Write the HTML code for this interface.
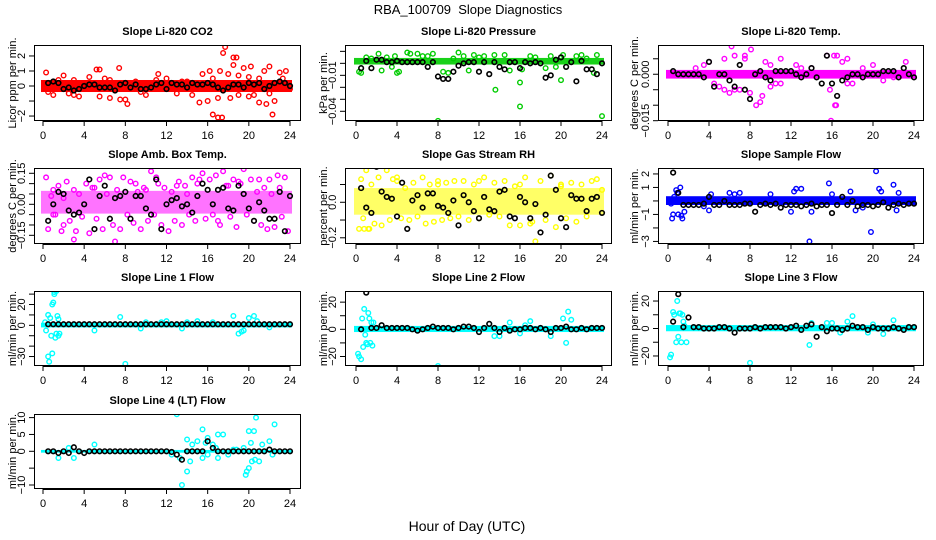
<!DOCTYPE html>
<html><head><meta charset="utf-8">
<style>
html,body{margin:0;padding:0;background:#fff;}
svg{display:block;font-family:"Liberation Sans",Arial,sans-serif;}
</style></head>
<body>
<svg id="chart" width="936" height="540" viewBox="0 0 936 540" xmlns="http://www.w3.org/2000/svg">
<rect width="936" height="540" fill="#fff"/>
<text x="468" y="14" text-anchor="middle" font-size="13">RBA_100709&#160; Slope Diagnostics</text>
<text x="467" y="531" text-anchor="middle" font-size="14">Hour of Day (UTC)</text>
</svg>
<script>
// ---- shared data ----
const xTicks = [0,4,8,12,16,20,24];
const blackHours = [0.5,1,1.5,2,2.5,3,3.5,4,4.5,5,5.5,6,6.5,7,7.5,8,8.5,9,9.5,10,10.5,11,11.5,12,12.5,13,13.5,14,14.5,15,15.5,16,16.5,17,17.5,18,18.5,19,19.5,20,20.5,21,21.5,22,22.5,23,23.5,24];

// ---- CO2 ----
const co2Black = [0.2,0.3,0.2,-0.2,-0.1,-0.3,-0.2,0,0.1,0.1,-0.1,-0.1,-0.1,-0.3,0.1,0.2,-0.1,0.1,-0.2,-0.2,-0.1,0.1,0.2,-0.2,0.2,0.1,0.1,-0.1,0.2,0.1,0.1,0.2,0.1,-0.1,-0.3,-0.1,0.1,0.1,-0.1,0.2,0.1,0.2,-0.2,0,0.2,0.3,0.2,0];
const co2Hours = [0.3,0.5,1,1.5,2,2.5,3,3.5,4.5,5.2,5.5,5.5,6,6.5,7.4,7.5,8,8.2,9,10,11.2,12,13,14,15.2,15.5,16,16.2,16.5,17,17.2,17.4,17.5,17.7,18,18.2,18.5,18.5,18.8,19,19.5,20,20.2,20.5,21,21.5,21.7,22,22.3,22.5,23,23.3,23.6,24,16.5,17,19,21,20,22,3,6.5,9.5,11,13.5,14.5];
const co2Vals = [0.9,-0.4,-0.6,0.4,0.7,-0.5,0.4,-0.7,0.6,1.1,1.1,-0.7,0.5,-0.8,1.2,-0.9,-0.9,-1.2,0.3,-0.6,0.8,0.5,-0.5,0.3,-1.1,0.8,-1,1,-1.9,-2.1,1,-2.1,2.2,2.6,0.8,-0.8,1.4,1.9,1.9,-0.6,1.2,0.6,1.3,-0.6,-1.1,1,-1.2,1.3,-1.9,-1,0.9,0.5,1,-0.2,0.5,-0.8,0.7,0.5,-0.7,-0.5,-0.6,0.4,-0.4,0.4,0.3,-0.6];

// ---- Pressure ----
const presBlack = [-0.004,0.002,-0.004,0.003,0.003,0.001,0.001,0.002,0.001,0.001,0.001,0.001,0.001,-0.003,0.001,-0.011,-0.013,-0.013,-0.007,-0.002,0,0.001,0.001,-0.007,0.001,-0.009,0.001,-0.003,-0.005,0.001,0.001,-0.004,0.001,0,0.001,0,-0.012,-0.010,0.003,0.005,-0.003,0.001,-0.015,0.002,-0.005,-0.005,-0.009,0.000];
const presHours = [0.3,0.5,1,2.2,2.5,3,3.5,4,4.2,5,5.3,6,6.5,7.5,8,8.5,9,9.5,10,10.5,11,11.5,12.5,13.5,13.6,14.5,15,16,16,16.2,17,17.5,18.5,19.5,20,20.2,21.5,22,22.5,23.2,23.5,24,7,12,19,1.5,3.8];
const presVals = [-0.007,-0.008,0.005,0.008,-0.006,0.005,-0.003,-0.008,-0.007,0.009,0.008,0.008,0.006,0.008,-0.048,-0.007,-0.008,0.004,0.009,0.006,-0.006,0.007,0.006,0.007,-0.022,0.007,-0.006,-0.016,-0.036,-0.005,0.006,0.005,-0.004,-0.003,-0.014,0.007,0.006,0.007,0.004,-0.008,0.007,-0.044,0.006,0.005,0.006,0.004,0.006];

// ---- Li-820 Temp ----
const ltBlack = [0.001,0,0,0,0,0,-0.001,0.004,-0.004,0,0,-0.002,-0.004,0.003,-0.005,-0.008,0,0.001,-0.001,-0.002,0.001,0.001,0.001,0.001,0,-0.001,0,0.002,-0.001,-0.003,0.006,-0.003,-0.007,-0.002,-0.001,0,0,-0.001,0,0,0,0.001,0.001,0.001,-0.001,0.002,0,-0.001];
const ltHours = [6.2,8.1,6.5,7.5,7.5,5.5,9,9.2,8.6,4.5,5,5.5,6,6.5,7,8,9.5,10,10.5,11,12.5,13,15.5,15.8,16.2,16.5,16.3,16.4,15.9,17.5,17.5,17,18,19,20,21,22,23.2,3.5,2.7,4,10,11,14];
const ltVals = [0.009,0.008,0.006,0.006,0.005,0.005,-0.009,-0.007,-0.01,-0.003,-0.004,-0.005,-0.006,-0.005,-0.005,-0.006,0.004,-0.004,-0.003,0.005,0.003,0.002,0.006,-0.005,0.006,0.006,-0.01,-0.01,-0.015,0.005,-0.003,0.004,-0.003,0.002,0.003,-0.002,-0.001,0.004,0.003,0.002,0.004,0.003,-0.003,0.002];

// ---- Amb Box Temp ----
const abBlack = [-0.08,0.0,0.06,0.05,-0.03,-0.05,-0.04,0.0,0.12,-0.12,0.04,0.09,-0.07,0.03,0.04,0.06,-0.07,0.04,0.04,-0.02,-0.05,0.12,-0.12,0.0,0.02,0.03,-0.01,0.0,-0.04,0.04,0.10,0.07,0.0,0.07,0.08,-0.02,-0.03,0.09,0.05,-0.02,-0.08,0.01,-0.03,-0.07,-0.07,0.06,-0.13,0.04];
const abHours = [0.3,0.5,0.8,1,1.2,1.5,1.8,2,2.3,2.6,3,3.2,3.5,3.8,4.2,4.5,4.8,5.2,5.5,5.8,6.2,6.5,6.8,7.2,7.5,7.8,8.2,8.5,8.8,9.2,9.5,9.8,10.2,10.5,10.8,11.2,11.5,11.8,12.2,12.5,12.8,13.2,13.5,13.8,14.2,14.5,14.8,15.2,15.5,15.8,16.2,16.5,16.8,17.2,17.5,17.8,18.2,18.5,18.8,19.2,19.5,19.8,20.2,20.5,20.8,21.2,21.5,21.8,22.2,22.5,22.8,23.2,23.5,23.8,1,3,5,7,9,11,13,15,17,19,21,23,2,6,10,14,18,22];
const abVals = [0.13,-0.12,0.04,0.07,-0.05,0.09,-0.13,0.03,0.11,-0.08,0.07,-0.13,0.05,-0.06,0.1,-0.14,0.08,-0.07,0.12,-0.12,0.05,0.13,-0.1,0.07,-0.12,0.13,-0.05,0.11,-0.09,0.06,-0.12,0.08,-0.08,0.16,-0.05,0.1,-0.1,0.08,-0.13,0.06,-0.08,0.11,-0.1,0.09,-0.05,0.13,-0.08,0.12,0.15,-0.07,0.12,-0.05,0.14,-0.1,0.16,0.09,-0.06,0.12,-0.11,0.1,0.17,-0.05,0.12,-0.08,0.06,-0.1,0.08,-0.12,0.05,-0.11,0.14,-0.06,0.13,-0.13,-0.05,-0.17,0.08,-0.18,0.1,0.13,0.09,0.1,-0.08,0.11,0.12,0.08,-0.1,0.14,0.07,0.05,0.09,0.12];

// ---- Gas Stream RH ----
const rhBlack = [0.08,-0.03,-0.06,0.2,0.06,0.03,0.02,-0.08,0.11,-0.15,0.01,0.04,-0.03,0.05,0.05,-0.02,-0.03,-0.06,0.01,-0.13,0.04,0.0,-0.05,-0.09,0.03,-0.04,-0.05,0.06,0.07,-0.08,-0.09,0.03,0.0,-0.09,-0.01,-0.17,-0.07,0.15,0.07,-0.09,-0.14,0.04,0.02,0.02,-0.05,0.02,0.03,-0.06];
const rhHours = [0.3,0.5,0.7,1,1.3,1.5,1.8,2.2,2.5,3,3.3,3.6,4,4.4,4.8,5.2,5.6,6,6.5,6.8,7.2,7.6,8,8.4,8.8,9.2,9.6,10,10.5,11,11.5,12,12.5,13,13.5,14,14.5,15,15.5,16,16.5,17,17.2,17.5,18,18.5,19,19.5,20,20.5,21,21.5,22,22.5,23,23.5,0.8,1.2,4,8,12,16,20,24];
const rhVals = [-0.15,0.13,-0.09,0.18,-0.15,0.1,-0.12,0.14,-0.13,0.18,-0.1,0.13,0.12,-0.09,0.08,-0.1,0.11,-0.08,0.14,-0.12,0.1,-0.11,0.12,-0.1,0.11,-0.09,0.12,-0.08,0.12,-0.1,0.1,-0.09,0.14,-0.07,0.11,-0.08,0.12,-0.13,0.09,-0.13,0.14,-0.12,-0.11,-0.22,0.12,-0.1,0.15,-0.14,0.1,-0.09,0.11,-0.11,0.1,-0.08,0.12,0.13,-0.15,-0.15,0.14,0.1,0.12,0.1,0.09,0.07];

// ---- Sample Flow ----
const sfBlack = [2.1,0.6,-0.3,-0.3,-0.3,-0.3,-0.2,0.3,-0.3,-0.3,0,-0.3,-0.3,-0.3,-0.2,-0.2,-0.8,-0.3,-0.2,-0.3,-0.2,-0.5,-0.3,-0.3,-0.3,-0.4,-0.3,-0.2,-0.4,-0.3,-0.3,-0.9,-0.3,0.3,-0.3,0,-0.4,-0.3,-0.3,-0.4,-0.3,-0.1,-0.5,-0.3,-0.2,-0.3,-0.2,-0.2];
const sfHours = [0.4,0.5,0.6,0.8,1,1.2,1.4,1.6,0.3,0.9,3.5,4,4.2,6,6.5,7,12,12.5,13,13.8,14,15.7,17.8,18.3,19.8,20.3,20.6,20.8,22,22.3,22.5,1.3,10,12.3,16,19];
const sfVals = [-1.3,-1,0.3,0.8,-1.0,1.0,-1.3,-0.8,-0.2,0.6,-0.4,-0.7,0.5,0.6,0.5,0.6,-0.8,0.9,0.9,-3.0,-0.8,1.3,0.7,-0.7,-2.3,2.2,0.9,0.7,1.2,-0.7,0.6,-1.1,0.5,0.7,0.5,-0.5];

// ---- Line 1 Flow ----
const l1Black = [1,1,1,1,1,1,1,1,1,1,1,1,1,1,1,1,1,1,1,1,1,1,1,1,1,1,1,1,1,1,1,1,1,1,1,1,1,1,1,1,1,1,1,1,1,1,1,1];
const l1Hours = [0.2,0.3,0.5,0.5,0.6,0.7,0.8,0.9,1,1.1,1.2,1.3,1.4,1.5,1.6,1.5,0.9,1.3,1.1,8,5,7.5,10,12,14,15,18.5,19,19.5,20,20.5,20.8,19.3,9.5,11.5,13.5,16.5,22];
const l1Vals = [3,-5,10,-30,-35,7,-10,20,22,30,-12,-8,9,-10,-8,6,-27,33,32,-37,-5,8,3,4,3,4,9,-8,-5,7,9,4,-6,-3,3,-3,3,-2];

// ---- Line 2 Flow ----
const l2Black = [0,27,1,1,3,1,1,1,1,1,0,-1,0,1,2,1,1,1,0,1,2,2,1,-2,1,4,1,-2,1,-1,0,0,1,1,0,1,0,-2,1,1,2,0,0,1,0,1,1,1];
const l2Hours = [0.2,0.3,0.5,0.6,0.7,0.8,0.9,1,1.1,1.2,1.3,1.4,1.5,1.6,1.7,8,13,14,15,16,17,19,20.2,20.5,20.7,21,16.5,13.5];
const l2Vals = [-18,-20,-22,8,-13,15,-4,-10,-11,12,8,-10,5,-12,5,-27,4,-5,5,-3,6,-5,8,-10,13,7,3,-5];

// ---- Line 3 Flow ----
const l3Black = [5,25,1,8,1,1,0,0,0,1,1,0,-3,0,0,0,1,0,1,1,1,1,0,1,2,-1,2,3,-6,1,-2,0,0,-1,0,2,1,1,-1,1,0,0,0,1,0,-1,1,1];
const l3Hours = [0.2,0.3,0.5,0.6,0.8,0.9,1,1.1,1.2,1.3,1.4,1.5,1.6,1.8,8,13.8,14,16,17.5,18,19.5,20,21,22,16.8,15.5];
const l3Vals = [-21,-19,12,10,-10,20,-6,11,11,-10,10,5,2,-10,-25,-12,4,4,5,9,-3,3,-4,6,-3,4];

// ---- Line 4 (LT) Flow ----
const l4Black = [0,0,-0.5,0,-0.5,1.2,0,-0.5,0,0,0,0,0,0,0,0,0,0,0,0,0,0,0,0,-0.2,-1,-2.5,0,0,0,0,3,1,0,0,0,0,0,0,0,0,0,0,0.5,0,0,0,0];
const l4Hours = [1.5,3,5,12.5,13,13.3,13.5,14,14,14.3,14.5,15,15.5,15.5,15.8,16,16,16.5,17,17,17.5,18,18.5,18.8,19.5,19.7,20,20,20.2,20.3,20.5,20.6,20.7,21,21.3,22,22.3,22.5,2.5,16.8,19.8];
const l4Vals = [-2,-2,2,-1,11,-2,-10,3.5,-6,-3,2,3,-2,6.5,2.5,4,-1,2,5,-2,5,-1,0.5,0.5,1,-7,6,-5,2.5,-3,6,-2.5,10,-3,2,3,-1,8,1,1,-6];

// ---- panel layout (positions only) ----
const cols = [{l:34,r:301,x0:43,x24:290,yl:12},{l:345,r:612,x0:356,x24:602,yl:323},{l:658,r:924,x0:668,x24:914,yl:634}];
const rows = [{t:45,b:121,title:35},{t:168,b:244,title:158},{t:291,b:366,title:281},{t:414,b:489,title:404}];

const panels = [
 {c:0,r:0,title:"Slope Li-820 CO2",ylab:"Licor ppm per min.",dom:[-2.33,2.73],ticks:[2,1,0,-1,-2],labels:["2","1","0","","\u22122"],col:"#ff0000",band:[-0.4,0.4],bandOp:1,hx:co2Hours,hy:co2Vals,by:co2Black},
 {c:1,r:0,title:"Slope Li-820 Pressure",ylab:"kPa per min.",dom:[-0.0481,0.0153],ticks:[0.01,0,-0.01,-0.02,-0.03,-0.04],labels:["","","\u22120.01","","","\u22120.04"],col:"#00cc00",band:[-0.001,0.0045],bandOp:0.9,hx:presHours,hy:presVals,by:presBlack},
 {c:2,r:0,title:"Slope Li-820 Temp.",ylab:"degrees C per min.",dom:[-0.0151,0.00945],ticks:[0.005,0,-0.005,-0.01,-0.015],labels:["","0.000","","","\u22120.015"],col:"#ff00ff",band:[-0.0014,0.0014],bandOp:1,hx:ltHours,hy:ltVals,by:ltBlack},
 {c:0,r:1,title:"Slope Amb. Box Temp.",ylab:"degrees C per min.",dom:[-0.192,0.1756],ticks:[0.15,0.1,0.05,0,-0.05,-0.1,-0.15],labels:["0.15","","","0.00","","","\u22120.15"],col:"#ff00ff",band:[-0.045,0.065],bandOp:0.55,hx:abHours,hy:abVals,by:abBlack},
 {c:1,r:1,title:"Slope Gas Stream RH",ylab:"percent per min.",dom:[-0.235,0.193],ticks:[0.1,0,-0.1,-0.2],labels:["","0.0","","\u22120.2"],col:"#ffff00",band:[-0.07,0.08],bandOp:0.6,hx:rhHours,hy:rhVals,by:rhBlack},
 {c:2,r:1,title:"Slope Sample Flow",ylab:"ml/min per min.",dom:[-3.19,2.44],ticks:[2,1,0,-1,-2,-3],labels:["2","1","","\u22121","","\u22123"],col:"#0000ff",band:[-0.3,0.35],bandOp:1,hx:sfHours,hy:sfVals,by:sfBlack},
 {c:0,r:2,title:"Slope Line 1 Flow",ylab:"ml/min per min.",dom:[-39.1,33],ticks:[30,20,10,0,-10,-20,-30],labels:["","20","","0","","","\u221230"],col:"#00ffff",band:[-2,2.5],bandOp:1,hx:l1Hours,hy:l1Vals,by:l1Black},
 {c:1,r:2,title:"Slope Line 2 Flow",ylab:"ml/min per min.",dom:[-27,28.2],ticks:[20,10,0,-10,-20],labels:["20","","0","","\u221220"],col:"#00ffff",band:[-2,2.5],bandOp:1,hx:l2Hours,hy:l2Vals,by:l2Black},
 {c:2,r:2,title:"Slope Line 3 Flow",ylab:"ml/min per min.",dom:[-27.3,27.3],ticks:[20,10,0,-10,-20],labels:["20","","0","","\u221220"],col:"#00ffff",band:[-2,2.5],bandOp:1,hx:l3Hours,hy:l3Vals,by:l3Black},
 {c:0,r:3,title:"Slope Line 4 (LT) Flow",ylab:"ml/min per min.",dom:[-11.19,11.07],ticks:[10,5,0,-5,-10],labels:["10","5","0","","\u221210"],col:"#00ffff",band:[-0.4,0.4],bandOp:1,hx:l4Hours,hy:l4Vals,by:l4Black}
];

const NS="http://www.w3.org/2000/svg";
const svg=document.getElementById('chart');
function mk(tag,attrs,parent){const e=document.createElementNS(NS,tag);for(const k in attrs)e.setAttribute(k,attrs[k]);(parent||svg).appendChild(e);return e;}

panels.forEach((p,pi)=>{
  const C=cols[p.c],R=rows[p.r];
  const xs=h=>C.x0+(C.x24-C.x0)*h/24;
  const ys=v=>R.b-(v-p.dom[0])/(p.dom[1]-p.dom[0])*(R.b-R.t);
  const g=mk('g',{});
  
  
  const tt=mk('text',{x:(C.l+C.r)/2,y:R.title,'text-anchor':'middle','font-size':11,'font-weight':'bold'},g);
  tt.textContent=p.title;
  
  
  const yl=mk('text',{x:C.yl,y:(R.t+R.b)/2,'text-anchor':'middle','font-size':11,transform:`rotate(-90 ${C.yl} ${(R.t+R.b)/2})`,dy:'0.35em'},g);
  yl.textContent=p.ylab;
  
  
  const clip=mk('clipPath',{id:'clip'+pi},g);
  mk('rect',{x:C.l,y:R.t,width:C.r-C.l,height:R.b-R.t},clip);
  const pg=mk('g',{'clip-path':`url(#clip${pi})`},g);
  const band=mk('rect',{x:xs(0)-2,y:ys(p.band[1]),width:xs(24)-xs(0)+4,height:ys(p.band[0])-ys(p.band[1]),fill:p.col,opacity:p.bandOp},pg);
  
  
  p.hx.forEach((h,i)=>{
    const c=mk('circle',{cx:xs(h),cy:ys(p.hy[i]),r:2.3,fill:'none',stroke:p.col,'stroke-width':1.4},pg);
    
    
  });
  blackHours.forEach((h,i)=>{
    const c=mk('circle',{cx:xs(h),cy:ys(p.by[i]),r:2.3,fill:'none',stroke:'#000','stroke-width':1.6},pg);
    
    
  });
  const box=mk('rect',{x:C.l+0.5,y:R.t+0.5,width:C.r-C.l-1,height:R.b-R.t-1,fill:'none',stroke:'#000','stroke-width':1},g);
  
  
  const yv=p.ticks.map(ys);
  mk('line',{x1:C.l+0.5,x2:C.l+0.5,y1:Math.min(...yv),y2:Math.max(...yv),stroke:'#000'},g);
  p.ticks.forEach((t,i)=>{
    const y=ys(t);
    mk('line',{x1:C.l-5,x2:C.l,y1:y,y2:y,stroke:'#000'},g);
    if(p.labels[i]){
      const tx=C.l-9;
      const lt=mk('text',{x:tx,y:y,'text-anchor':'middle','font-size':11,transform:`rotate(-90 ${tx} ${y})`},g);
      lt.textContent=p.labels[i];
      
      
    }
  });
  mk('line',{x1:xs(0),x2:xs(24),y1:R.b+0.5,y2:R.b+0.5,stroke:'#000'},g);
  xTicks.forEach(t=>{
    const x=xs(t);
    mk('line',{x1:x,x2:x,y1:R.b,y2:R.b+5,stroke:'#000'},g);
    const lt=mk('text',{x:x,y:R.b+18,'text-anchor':'middle','font-size':11},g);
    lt.textContent=t;
    
    
  });
});
</script>
</body></html>
